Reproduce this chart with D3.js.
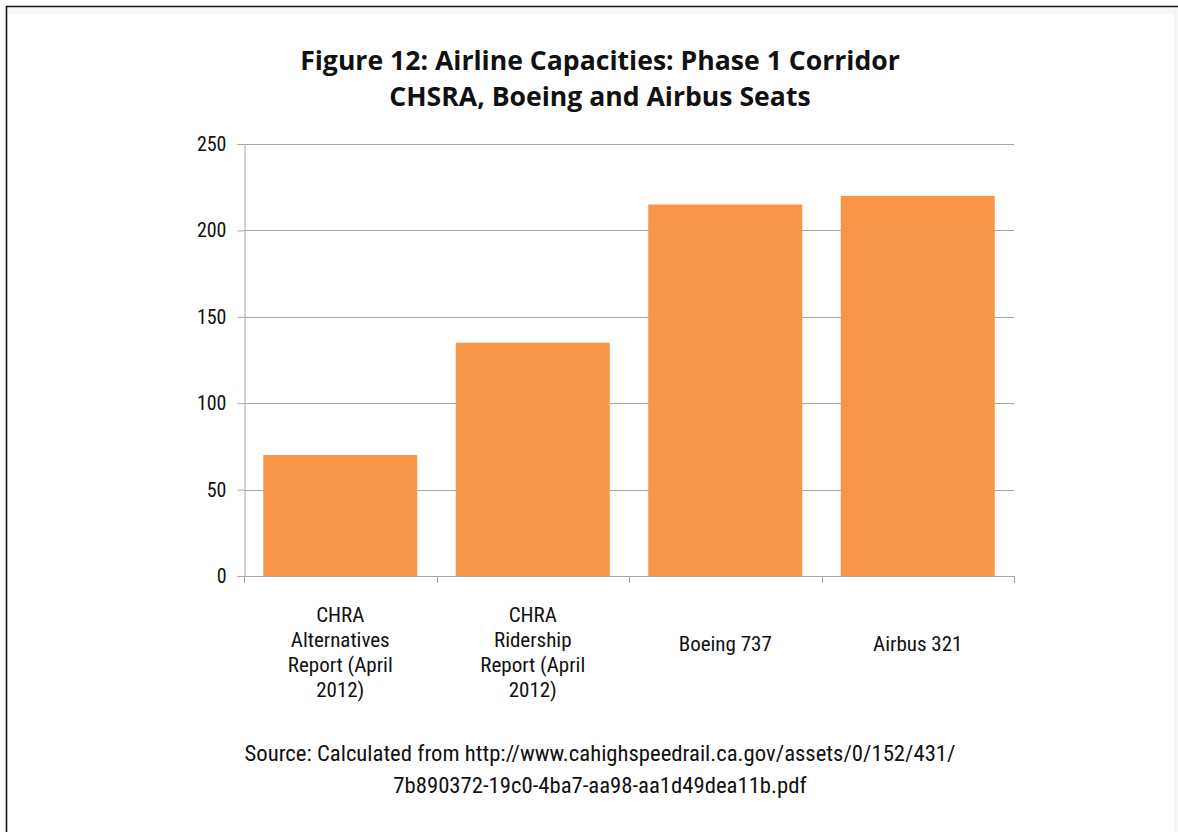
<!DOCTYPE html>
<html><head><meta charset="utf-8">
<script src="https://cdnjs.cloudflare.com/ajax/libs/d3/7.8.5/d3.min.js"></script>
<style>
html,body{margin:0;padding:0;background:#fff;}
svg{display:block;}
</style></head>
<body>
<script>
const categories = [
  ["CHRA","Alternatives","Report (April","2012)"],
  ["CHRA","Ridership","Report (April","2012)"],
  ["Boeing 737"],
  ["Airbus 321"]
];
const seats = [70, 135, 215, 220];
const yTicks = [0, 50, 100, 150, 200, 250];
const titleLines = ["Figure 12: Airline Capacities: Phase 1 Corridor", "CHSRA, Boeing and Airbus Seats"];
const sourceLines = ["Source: Calculated from http://www.cahighspeedrail.ca.gov/assets/0/152/431/", "7b890372-19c0-4ba7-aa98-aa1d49dea11b.pdf"];

(function(){
const W = 1178, H = 832;
const narrow = "'Roboto Condensed','Liberation Sans Narrow','Arial Narrow',sans-serif";
const svg = d3.select("body").append("svg").attr("width", W).attr("height", H);

// frame
svg.append("rect").attr("x", W - 4).attr("y", 8).attr("width", 4).attr("height", H - 8).attr("fill", "#f5f5f5");
svg.append("rect").attr("x", 8).attr("y", 8).attr("width", W - 12).attr("height", 6).attr("fill", "#f7f7f7");
svg.append("line").attr("x1",6.5).attr("x2",6.5).attr("y1",6).attr("y2",H).attr("stroke","#111").attr("stroke-width",1.6);
svg.append("line").attr("x1",6).attr("x2",W).attr("y1",6.5).attr("y2",6.5).attr("stroke","#111").attr("stroke-width",1.6);

const pL = 244, pR = 1014, pT = 144, pB = 576;
const idx = d3.range(categories.length);
const x = d3.scaleBand().domain(idx).range([pL, pR]).paddingInner(0.2).paddingOuter(0.1);
const y = d3.scaleLinear().domain([0, 250]).range([pB, pT]);

// gridlines
svg.append("g").selectAll("line").data(yTicks.filter(d => d > 0)).join("line")
  .attr("x1", pL).attr("x2", pR)
  .attr("y1", d => Math.round(y(d)) + 0.5).attr("y2", d => Math.round(y(d)) + 0.5)
  .attr("stroke", "#a6a6a6").attr("stroke-width", 1);

// y axis
const yAxis = svg.append("g").attr("transform", `translate(${pL + 0.5},0)`)
  .call(d3.axisLeft(y).tickValues(yTicks).tickSize(7).tickPadding(11));
yAxis.select(".domain").attr("stroke", "#a6a6a6");
yAxis.selectAll(".tick line").attr("stroke", "#a6a6a6");
yAxis.selectAll("text").attr("font-family", narrow).attr("font-size", 20).attr("fill", "#111");

// bars
svg.append("g").selectAll("rect").data(seats).join("rect")
  .attr("x", (d, i) => x(i)).attr("width", x.bandwidth())
  .attr("y", d => y(d)).attr("height", d => pB - y(d))
  .attr("fill", "#f79646");

// x axis
const bounds = d3.range(categories.length + 1).map(i => pL + i * (pR - pL) / categories.length);
svg.append("line").attr("x1", pL).attr("x2", pR + 0.5).attr("y1", pB + 0.5).attr("y2", pB + 0.5).attr("stroke", "#a6a6a6");
svg.append("g").selectAll("line").data(bounds).join("line")
  .attr("x1", d => Math.round(d) + 0.5).attr("x2", d => Math.round(d) + 0.5)
  .attr("y1", pB).attr("y2", pB + 7).attr("stroke", "#a6a6a6");

// category labels
const lh = 25;
categories.forEach((lines, i) => {
  const cx = x(i) + x.bandwidth() / 2;
  const n = lines.length;
  const startY = n === 1 ? 651 : 622;
  const t = svg.append("text").attr("text-anchor", "middle").attr("font-family", narrow).attr("font-size", 21).attr("fill", "#111");
  lines.forEach((s, j) => t.append("tspan").attr("x", cx).attr("y", startY + j * lh).text(s));
});

// title
svg.append("text").attr("text-anchor", "middle").attr("font-family", "'Open Sans',Lato,sans-serif")
  .attr("font-weight", "bold").attr("font-size", 26.6).attr("fill", "#111")
  .selectAll("tspan").data(titleLines).join("tspan")
  .attr("x", 600).attr("y", (d, i) => 70 + i * 36).text(d => d);

// source
svg.append("text").attr("text-anchor", "middle").attr("font-family", narrow)
  .attr("font-size", 22.7).attr("fill", "#111")
  .selectAll("tspan").data(sourceLines).join("tspan")
  .attr("x", 600).attr("y", (d, i) => 761 + i * 32).text(d => d);
})();
</script>
</body></html>
